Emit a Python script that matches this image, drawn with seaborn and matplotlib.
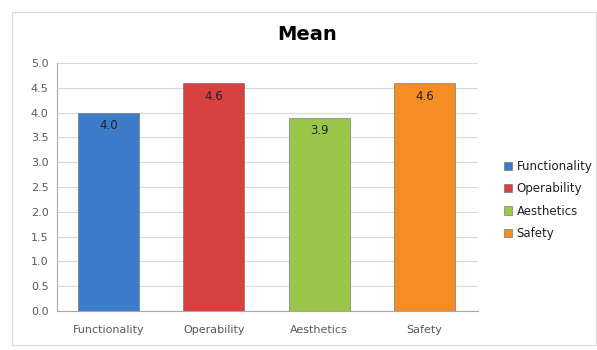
import matplotlib
matplotlib.use("Agg")
import matplotlib.pyplot as plt
import seaborn as sns
import pandas as pd
from matplotlib.patches import Rectangle

categories = ["Functionality", "Operability", "Aesthetics", "Safety"]
values = [4.0, 4.6, 3.9, 4.6]
colors = ["#3D7CCB", "#D94040", "#9CC64A", "#F58C24"]
yticks = [0.0, 0.5, 1.0, 1.5, 2.0, 2.5, 3.0, 3.5, 4.0, 4.5, 5.0]

sns.set_theme(style="white")
plt.rcParams['font.family'] = ['DejaVu Sans']

df = pd.DataFrame({"cat": categories, "val": values})

fig = plt.figure(figsize=(5.97, 3.5), dpi=100)
fig.patches.append(Rectangle((12/597, 5/350), 584/597, 333/350, transform=fig.transFigure,
                             fill=False, edgecolor="#D9D9D9", linewidth=0.8))
ax = fig.add_axes([57/597, 1-311/350, (478-57)/597, (311-63)/350])

sns.barplot(data=df, x="cat", y="val", hue="cat", palette=colors, dodge=False,
            width=0.58, ax=ax, legend=True, saturation=1,
            edgecolor="#666666", linewidth=0.4)

for i, v in enumerate(values):
    ax.text(i, v - 0.27, f"{v:.1f}", ha="center", va="center", fontsize=8.5, color="#222222")

ax.set_ylim(0, 5.0)
ax.set_yticks(yticks)
ax.set_yticklabels([f"{t:.1f}" for t in yticks], fontsize=8, color="#595959")
ax.tick_params(axis="x", labelsize=8, colors="#595959", pad=10, length=0)
ax.tick_params(axis="y", length=0, pad=6)
ax.set_xlabel("")
ax.set_ylabel("")
ax.yaxis.grid(True, color="#D9D9D9", linewidth=0.8)
ax.set_axisbelow(True)
for s in ["top", "right"]:
    ax.spines[s].set_visible(False)
for s in ["left", "bottom"]:
    ax.spines[s].set_color("#A6A6A6")
    ax.spines[s].set_linewidth(0.8)
ax.set_xlim(-0.49, 3.51)

handles, labels = ax.get_legend_handles_labels()
leg = ax.legend(handles, labels, loc="center left", bbox_to_anchor=(493/597, 1-200/350),
                bbox_transform=fig.transFigure, frameon=False, fontsize=8.5,
                handlelength=0.7, handleheight=0.7, labelspacing=0.8, handletextpad=0.4)
for t in leg.get_texts():
    t.set_color("#222222")

fig.text(307/597, 1-35/350, "Mean", ha="center", va="center", fontsize=14, fontweight="bold", color="#000000")

fig.savefig("out.png", dpi=100)
